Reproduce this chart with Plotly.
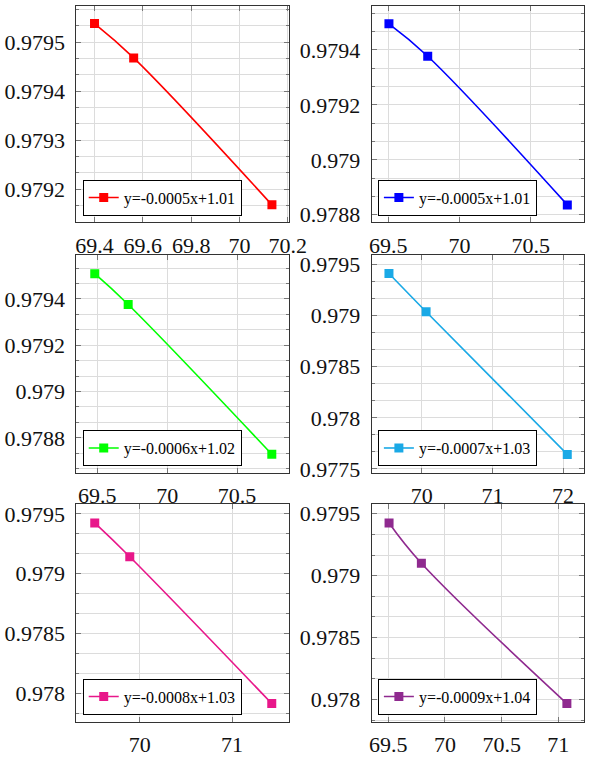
import numpy as np
import plotly.graph_objects as go

W, H = 602, 762

# ---------------- data ----------------
labels = ["y=-0.0005x+1.01", "y=-0.0005x+1.01", "y=-0.0006x+1.02",
          "y=-0.0007x+1.03", "y=-0.0008x+1.03", "y=-0.0009x+1.04"]
colors = ["#ff0000", "#0000ff", "#00ff00", "#1aa9e6", "#e8178a", "#8f2a8f"]

x1 = [69.400, 69.562, 70.134]
y1 = [0.979538, 0.979468, 0.979168]
x2 = [69.505, 69.777, 70.756]
y2 = [0.979495, 0.979377, 0.978836]
x3 = [69.482, 69.721, 70.748]
y3 = [0.979509, 0.979376, 0.978729]
x4 = [69.534, 70.060, 72.060]
y4 = [0.979413, 0.979039, 0.977643]
x5 = [69.514, 69.893, 71.429]
y5 = [0.979424, 0.979142, 0.977918]
x6 = [69.507, 69.792, 71.075]
y6 = [0.979426, 0.979101, 0.977968]

xs = [x1, x2, x3, x4, x5, x6]
ys = [y1, y2, y3, y4, y5, y6]

xtick1 = [69.4, 69.6, 69.8, 70.0, 70.2]
xtick2 = [69.5, 70.0, 70.5]
xtick3 = [69.5, 70.0, 70.5]
xtick4 = [70, 71, 72]
xtick5 = [70, 71]
xtick6 = [69.5, 70.0, 70.5, 71.0]
xticks = [xtick1, xtick2, xtick3, xtick4, xtick5, xtick6]
xticktext = [["69.4", "69.6", "69.8", "70", "70.2"],
             ["69.5", "70", "70.5"],
             ["69.5", "70", "70.5"],
             ["70", "71", "72"],
             ["70", "71"],
             ["69.5", "70", "70.5", "71"]]

ytick1 = [0.9792, 0.9793, 0.9794, 0.9795]
ytick2 = [0.9788, 0.9790, 0.9792, 0.9794]
ytick3 = [0.9788, 0.9790, 0.9792, 0.9794]
ytick4 = [0.9775, 0.9780, 0.9785, 0.9790, 0.9795]
ytick5 = [0.9780, 0.9785, 0.9790, 0.9795]
ytick6 = [0.9780, 0.9785, 0.9790, 0.9795]
yticks = [ytick1, ytick2, ytick3, ytick4, ytick5, ytick6]
yticktext = [["0.9792", "0.9793", "0.9794", "0.9795"],
             ["0.9788", "0.979", "0.9792", "0.9794"],
             ["0.9788", "0.979", "0.9792", "0.9794"],
             ["0.9775", "0.978", "0.9785", "0.979", "0.9795"],
             ["0.978", "0.9785", "0.979", "0.9795"],
             ["0.978", "0.9785", "0.979", "0.9795"]]

xranges = [[69.3252, 70.2052], [69.3834, 70.873], [69.351, 70.872],
           [69.288, 72.297], [69.316, 71.617], [69.353, 71.226]]
yranges = [[0.979132, 0.979574], [0.978772, 0.979560], [0.978648, 0.979590],
           [0.977461, 0.979594], [0.977768, 0.979582], [0.977823, 0.979579]]

# ---------------- layout geometry (pixels) ----------------
cols_px = [(77, 297), (382.3, 602)]
rows_px = [(3, 223), (256, 477.5), (509, 730)]

FONT = "Liberation Serif"
GRID = "#dcdcdc"
LINE = "#333333"
TICK = "#777777"

fig = go.Figure()
layout = dict(width=W, height=H, margin=dict(l=0, r=0, t=0, b=0),
              paper_bgcolor="white", plot_bgcolor="white", showlegend=True)

for i in range(6):
    n = i + 1
    r, c = divmod(i, 2)
    l_px, r_px = cols_px[c]
    t_px, b_px = rows_px[r]
    xd = [l_px / W, min(1.0, r_px / W)]
    yd = [1 - b_px / H, 1 - t_px / H]
    sfx = "" if n == 1 else str(n)

    fig.add_trace(go.Scatter(
        x=xs[i], y=ys[i], mode="lines+markers", name=labels[i],
        line=dict(color=colors[i], width=1.6, shape="spline", smoothing=1.1),
        marker=dict(symbol="square", size=9, color=colors[i], line=dict(width=0)),
        xaxis="x" + sfx, yaxis="y" + sfx, legend="legend" + sfx,
    ))

    ymaj = yticks[i][1] - yticks[i][0]
    layout["xaxis" + sfx] = dict(
        domain=xd, anchor="y" + sfx, range=xranges[i],
        tickmode="array", tickvals=xticks[i], ticktext=xticktext[i],
        ticks="inside", ticklen=5, tickwidth=1, tickcolor=TICK,
        showline=True, linecolor=LINE, linewidth=1, mirror="ticks",
        showgrid=True, gridcolor=GRID, gridwidth=1, zeroline=False,
        tickfont=dict(family=FONT, size=22, color="#111"),
        ticklabelstandoff=3,
    )
    layout["yaxis" + sfx] = dict(
        domain=yd, anchor="x" + sfx, range=yranges[i],
        tickmode="array", tickvals=yticks[i], ticktext=yticktext[i],
        ticks="inside", ticklen=5, tickwidth=1, tickcolor=TICK,
        showline=True, linecolor=LINE, linewidth=1, mirror="ticks",
        showgrid=True, gridcolor=GRID, gridwidth=1, zeroline=False,
        tickfont=dict(family=FONT, size=22, color="#111"),
        ticklabelstandoff=6,
        minor=dict(tick0=yticks[i][0], dtick=ymaj / 3, ticks="inside",
                   ticklen=3, tickcolor=TICK, showgrid=True,
                   gridcolor=GRID, gridwidth=1),
    )
    layout["legend" + sfx] = dict(
        x=(l_px + 6.5) / W, y=1 - (b_px - 7) / H,
        xanchor="left", yanchor="bottom", xref="paper", yref="paper",
        bgcolor="white", bordercolor="black", borderwidth=1,
        font=dict(family=FONT, size=16, color="black"),
        itemwidth=30, tracegroupgap=0,
    )

fig.update_layout(**layout)
fig.write_html("out.html",
               config={"displayModeBar": False},
               post_script="document.body.style.margin='0';"
                           "document.body.style.overflow='hidden';")
